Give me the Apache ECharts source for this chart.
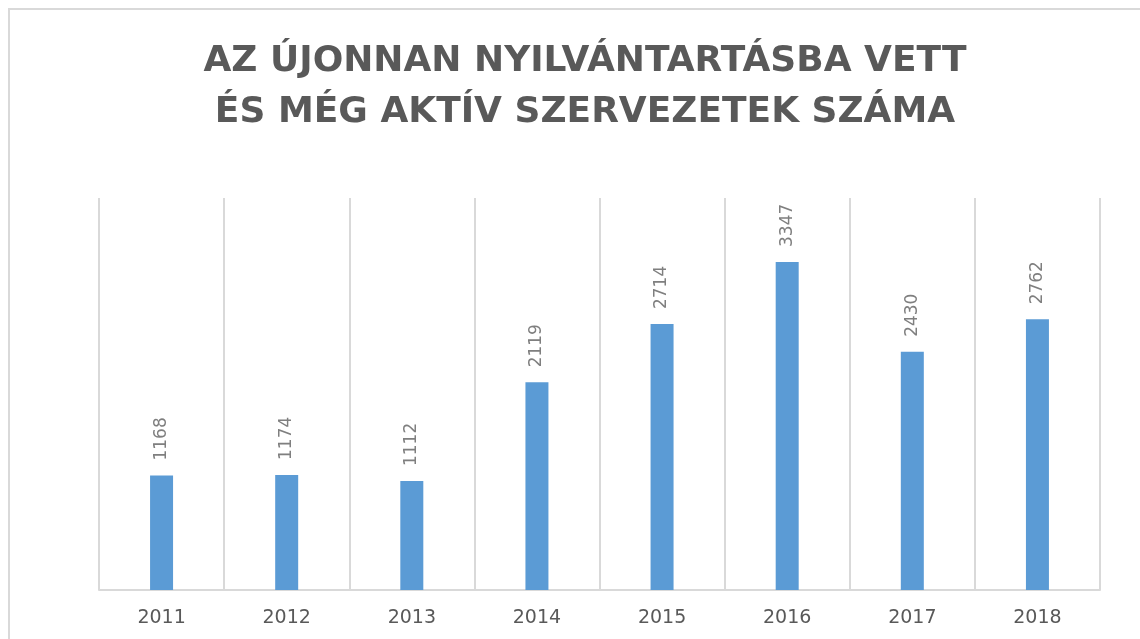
<!DOCTYPE html>
<html>
<head>
<meta charset="utf-8">
<script src="https://cdn.jsdelivr.net/npm/echarts@6/dist/echarts.min.js"></script>
<style>
  html, body { margin: 0; padding: 0; background: #fff; }
  #main { width: 1140px; height: 639px; }
</style>
</head>
<body>
<div id="main"></div>
<script>
// évek és értékek
var years = ["2011", "2012", "2013", "2014", "2015", "2016", "2017", "2018"];
var counts = [1168, 1174, 1112, 2119, 2714, 3347, 2430, 2762];
var titleLines = ["AZ ÚJONNAN NYILVÁNTARTÁSBA VETT", "ÉS MÉG AKTÍV SZERVEZETEK SZÁMA"];

var myChart = echarts.init(document.getElementById("main"));
myChart.setOption({
  animation: false,
  title: {
    text: titleLines.join("\n"),
    left: 580,
    top: 31,
    textAlign: "center",
    textStyle: {
      fontFamily: "DejaVu Sans",
      fontWeight: "bold",
      fontSize: 36,
      lineHeight: 51,
      color: "#595959",
    },
  },
  graphic: [
    {
      type: "rect",
      shape: { x: 9, y: 9, width: 1300, height: 800 },
      style: { fill: "none", stroke: "#d9d9d9", lineWidth: 2 },
      silent: true,
    },
  ],
  grid: {
    left: 99,
    right: 40,
    top: 198,
    bottom: 49,
  },
  xAxis: {
    type: "category",
    data: years,
    boundaryGap: true,
    axisLine: { lineStyle: { color: "#d9d9d9", width: 2 } },
    axisTick: { show: false },
    splitLine: {
      show: true,
      interval: 0,
      lineStyle: { color: "#d9d9d9", width: 2 },
    },
    axisLabel: {
      interval: 0,
      margin: 19,
      fontFamily: "DejaVu Sans",
      fontSize: 19,
      color: "#595959",
    },
  },
  yAxis: {
    type: "value",
    min: 0,
    max: 4000,
    show: false,
    splitLine: { show: false },
  },
  series: [
    {
      type: "bar",
      data: counts,
      barWidth: 23,
      itemStyle: { color: "#5b9bd5" },
      label: {
        show: true,
        position: "top",
        rotate: 90,
        align: "left",
        verticalAlign: "middle",
        distance: 15,
        fontFamily: "DejaVu Sans",
        fontSize: 17,
        color: "#7f7f7f",
      },
    },
  ],
});
</script>
</body>
</html>
